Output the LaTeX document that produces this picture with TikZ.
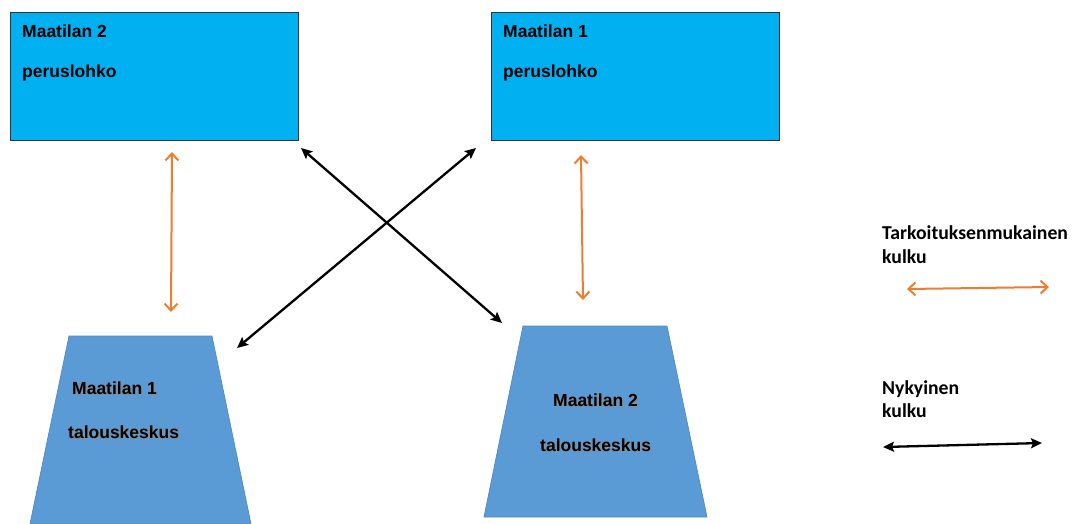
\documentclass[tikz,border=0pt]{standalone}
\usepackage{fontspec}
\setmainfont{Liberation Sans}
\newfontfamily\legendfont{Carlito}
\usetikzlibrary{arrows.meta}
\definecolor{boxblue}{HTML}{00B0F0}
\definecolor{trapblue}{HTML}{5B9BD5}
\definecolor{trapedge}{HTML}{4F8AC4}
\definecolor{orng}{HTML}{ED7D31}
\tikzset{
  fieldbox/.style={draw=black!80, line width=1pt, fill=boxblue, rectangle, minimum width=288, minimum height=128, inner sep=0pt},
  centrebox/.style={draw=trapedge, line width=0.7pt, fill=trapblue},
  lbl/.style={font=\fontsize{17.5}{20}\selectfont\bfseries, inner sep=0pt, anchor=west},
  shd/.style={lbl, text=black!45},
  lgd/.style={font=\legendfont\fontsize{19.7}{22}\selectfont\bfseries, inner sep=0pt, anchor=west},
  planned/.style={draw=orng, line width=2pt, {Straight Barb[length=7pt,width=13pt]}-{Straight Barb[length=7pt,width=13pt]}},
  current/.style={draw=black, line width=2.3pt, {Stealth[length=11pt,width=10pt,inset=2pt]}-{Stealth[length=11pt,width=10pt,inset=2pt]}}
}
\begin{document}
\begin{tikzpicture}[x=1pt,y=-1pt]
\useasboundingbox (0,0) rectangle (1079,523);
% field boxes
\node[fieldbox] (f2) at (154,76) {};
\node[fieldbox] (f1) at (635.5,76) {};
\node[lbl] (f2a) at (22,31) {Maatilan 2};
\node[lbl] (f2b) at (22,73) {peruslohko};
\node[lbl] (f1a) at (503,31) {Maatilan 1};
\node[lbl] (f1b) at (503,73) {peruslohko};
% farm centres
\coordinate (t1tl) at (69,336);
\coordinate (t1tr) at (212,336);
\coordinate (t1br) at (251,524);
\coordinate (t1bl) at (30,524);
\coordinate (t2tl) at (523,326);
\coordinate (t2tr) at (667,326);
\coordinate (t2br) at (707,517);
\coordinate (t2bl) at (484,517);
\path[centrebox] (t1tl) -- (t1tr) -- (t1br) -- (t1bl) -- cycle;
\path[centrebox] (t2tl) -- (t2tr) -- (t2br) -- (t2bl) -- cycle;
\node[shd] at (73.2,389.2) {Maatilan 1};
\node[lbl] (t1a) at (72,388) {Maatilan 1};
\node[shd] at (69.2,433.2) {talouskeskus};
\node[lbl] (t1b) at (68,432) {talouskeskus};
\node[shd] at (554.2,401.2) {Maatilan 2};
\node[lbl] (t2a) at (553,400) {Maatilan 2};
\node[shd] at (541.2,446.2) {talouskeskus};
\node[lbl] (t2b) at (540,445) {talouskeskus};
% arrow end points
\coordinate (o1s) at (172,152);
\coordinate (o1e) at (171,312);
\coordinate (o2s) at (581,155);
\coordinate (o2e) at (583,300);
\coordinate (b1s) at (301,148);
\coordinate (b1e) at (502,323);
\coordinate (b2s) at (476,148);
\coordinate (b2e) at (237,348);
\draw[planned] (o1s) -- (o1e);
\draw[planned] (o2s) -- (o2e);
\draw[current] (b1s) -- (b1e);
\draw[current] (b2s) -- (b2e);
% legend
\node[lgd] (l1) at (882,233) {Tarkoituksenmukainen};
\node[lgd] (l2) at (882,257) {kulku};
\node[lgd] (l3) at (882,389) {Nykyinen};
\node[lgd] (l4) at (882,411) {kulku};
\coordinate (lo1) at (907,289);
\coordinate (lo2) at (1049,287);
\coordinate (lb1) at (883,447);
\coordinate (lb2) at (1042,443);
\draw[planned] (lo1) -- (lo2);
\draw[current] (lb1) -- (lb2);
\end{tikzpicture}
\end{document}
